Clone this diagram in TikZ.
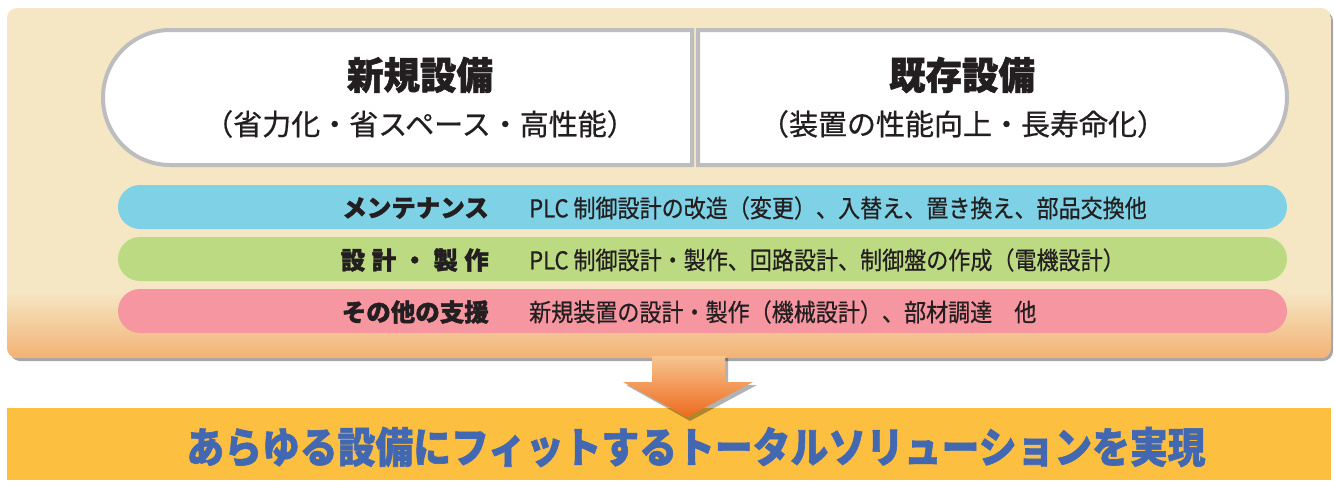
\documentclass[tikz,border=0pt]{standalone}
\usepackage{fontspec}
\newfontfamily\jp{Noto Sans CJK JP}
\newfontfamily\jpm{Noto Sans CJK JP}[UprightFeatures={FakeBold=0.6}]
\newfontfamily\jph{Noto Sans CJK JP}[BoldFeatures={FakeBold=1.5}]
\definecolor{beige}{HTML}{F5E6C4}
\definecolor{orangebot}{HTML}{F3B274}
\definecolor{boxgray}{HTML}{BDBDC0}
\definecolor{barblue}{HTML}{7FD1E5}
\definecolor{bargreen}{HTML}{BCDA82}
\definecolor{barpink}{HTML}{F596A1}
\definecolor{txt}{HTML}{231F20}
\definecolor{band}{HTML}{FDBF40}
\definecolor{bandtxt}{HTML}{4368B2}
\definecolor{arrtop}{HTML}{F6C590}
\definecolor{arrbot}{HTML}{EE6A1E}
\tikzset{
  boxline/.style={draw=boxgray,line width=4pt,fill=white},
  bar/.style={rounded corners=22pt},
  title/.style={text=txt,inner sep=0pt,font=\jph\bfseries\fontsize{38}{40}\selectfont},
  subtitle/.style={text=txt,inner sep=0pt,font=\jpm\fontsize{29}{30}\selectfont},
  lab/.style={text=txt,inner sep=0pt,anchor=east,font=\jph\bfseries\fontsize{24.5}{28}\selectfont},
  desc/.style={text=txt,inner sep=0pt,anchor=west,font=\jpm\fontsize{24.5}{26}\selectfont},
}
\begin{document}
\begin{tikzpicture}[x=1pt,y=-1pt]
\useasboundingbox (0,0) rectangle (1334,480);
% panel shadow
\fill[black,opacity=0.35,rounded corners=10pt] (10,11) rectangle (1333,361);
% panel
\begin{scope}
  \clip[rounded corners=10pt] (7,8) rectangle (1331,358);
  \fill[beige] (7,8) rectangle (1331,358);
  \shade[top color=beige,bottom color=orangebot] (7,292) rectangle (1331,358);
\end{scope}
% white boxes
\draw[boxline] (692,30) -- (170,30) .. controls (133,30) and (103,60) .. (103,97.5)
  .. controls (103,135) and (133,165) .. (170,165) -- (692,165) -- cycle;
\draw[boxline] (698,30) -- (1220,30) .. controls (1257,30) and (1287,60) .. (1287,97.5)
  .. controls (1287,135) and (1257,165) .. (1220,165) -- (698,165) -- cycle;
\node[title] (t1) at (420,75) {\scalebox{0.96}[1]{新規設備}};
\node[subtitle] (s1) at (420,124) {（省力化・省スペース・高性能）};
\node[title] (t2) at (962,75) {\scalebox{0.96}[1]{既存設備}};
\node[subtitle] (s2) at (963,124) {（装置の性能向上・長寿命化）};
% bars
\fill[bar,barblue] (118,185) rectangle (1287,229);
\fill[bar,bargreen] (118,237) rectangle (1287,281);
\fill[bar,barpink] (118,289) rectangle (1287,333);
\node[lab] (l1) at (489,208) {メンテナンス};
\node[lab] (l2) at (489,260) {\makebox[148pt][l]{設\hfill 計\hfill ・\hfill 製\hfill 作}};
\node[lab] (l3) at (489,312) {その他の支援};
\node[desc] (d1) at (529,208) {\scalebox{0.9}[1]{PLC 制御設計の改造（変更）、入替え、置き換え、部品交換他}};
\node[desc] (d2) at (529,260) {\scalebox{0.9}[1]{PLC 制御設計・製作、回路設計、制御盤の作成（電機設計）}};
\node[desc] (d3) at (529,312) {\scalebox{0.9}[1]{新規装置の設計・製作（機械設計）、部材調達　他}};
% bottom band
\fill[band] (7,408) rectangle (1331,480);
\node[text=bandtxt,inner sep=0pt,font=\jph\bfseries\fontsize{42}{44}\selectfont] (res) at (696,447) {\scalebox{0.9}[1]{あらゆる設備にフィットするトータルソリューションを実現}};
% arrow
\fill[black,opacity=0.3] (655,358) -- (728,358) -- (728,385) -- (757,385) -- (690,421) -- (626,385) -- (655,385) -- cycle;
\shade[top color=arrtop,bottom color=arrbot] (652,356) -- (725,356) -- (725,382) -- (753,382) -- (687,417) -- (623,382) -- (652,382) -- cycle;
\end{tikzpicture}
\end{document}
